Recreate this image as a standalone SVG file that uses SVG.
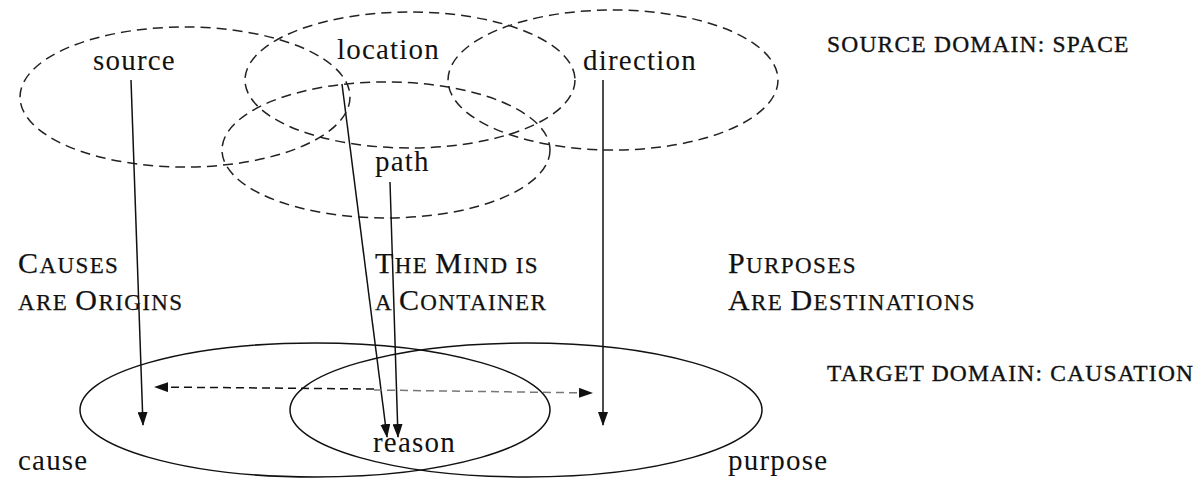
<svg xmlns="http://www.w3.org/2000/svg" width="1202" height="480" viewBox="0 0 1202 480">
<style>
.t{font-family:"Liberation Serif",serif;font-size:29px;fill:#111;letter-spacing:1.2px}
.sc{font-family:"Liberation Serif",serif;font-size:23.5px;fill:#111;letter-spacing:1.2px;stroke:#111;stroke-width:0.35}
.m{font-family:"Liberation Serif",serif;fill:#111;letter-spacing:1.4px;stroke:#111;stroke-width:0.25}
.big{font-size:30px}
.small{font-size:23px}
.dash{fill:none;stroke:#222;stroke-width:1.5;stroke-dasharray:10 6}
.solid{fill:none;stroke:#111;stroke-width:1.5}
.arr{stroke:#111;stroke-width:1.5;fill:none;marker-end:url(#ah)}
.darr{stroke:#111;stroke-width:1.5;fill:none;stroke-dasharray:8 5;marker-end:url(#ah)}
</style>
<defs>
<marker id="ah" markerWidth="14" markerHeight="10" refX="13" refY="5" orient="auto" markerUnits="userSpaceOnUse">
<path d="M0,0 L14,5 L0,10 Z" fill="#111"/>
</marker>
</defs>
<rect width="1202" height="480" fill="#fff"/>
<g id="source-domain">
<ellipse class="dash" cx="185" cy="97" rx="165" ry="70"/>
<ellipse class="dash" cx="410" cy="80" rx="165" ry="68"/>
<ellipse class="dash" cx="613" cy="80" rx="165" ry="70"/>
<ellipse class="dash" cx="386" cy="150" rx="164" ry="68"/>
</g>
<g id="target-domain">
<ellipse class="solid" cx="315" cy="410" rx="235" ry="67"/>
<ellipse class="solid" cx="526" cy="410" rx="236" ry="67"/>
</g>
<g id="node-source"><text class="t" x="93" y="70">source</text></g>
<g id="node-location"><text class="t" x="337" y="59">location</text></g>
<g id="node-direction"><text class="t" x="583" y="70">direction</text></g>
<g id="node-path"><text class="t" x="375" y="171">path</text></g>
<g id="label-source-domain"><text class="sc" x="827" y="52">SOURCE DOMAIN: SPACE</text></g>
<g id="label-target-domain"><text class="sc" x="827" y="381">TARGET DOMAIN: CAUSATION</text></g>
<g id="metaphor-1"><text class="m" x="18" y="273"><tspan class="big">C</tspan><tspan class="small">AUSES</tspan></text><text class="m" x="18" y="310"><tspan class="small">ARE </tspan><tspan class="big">O</tspan><tspan class="small">RIGINS</tspan></text></g>
<g id="metaphor-2"><text class="m" x="375" y="273"><tspan class="big">T</tspan><tspan class="small">HE </tspan><tspan class="big">M</tspan><tspan class="small">IND IS</tspan></text><text class="m" x="375" y="310"><tspan class="small">A </tspan><tspan class="big">C</tspan><tspan class="small">ONTAINER</tspan></text></g>
<g id="metaphor-3"><text class="m" x="728" y="273"><tspan class="big">P</tspan><tspan class="small">URPOSES</tspan></text><text class="m" x="728" y="310"><tspan class="big">A</tspan><tspan class="small">RE </tspan><tspan class="big">D</tspan><tspan class="small">ESTINATIONS</tspan></text></g>
<g id="node-cause"><text class="t" x="18" y="470">cause</text></g>
<g id="node-reason"><text class="t" x="373" y="452">reason</text></g>
<g id="node-purpose"><text class="t" x="728" y="470">purpose</text></g>
<g id="connectors">
<line class="arr" x1="131" y1="80" x2="143" y2="425"/>
<line class="arr" x1="342" y1="84" x2="387" y2="437"/>
<line class="arr" x1="390" y1="182" x2="398" y2="437"/>
<line class="arr" x1="603" y1="80" x2="603" y2="425"/>
<line class="darr" x1="374" y1="389" x2="155" y2="387"/>
<line class="darr" x1="374" y1="390" x2="592" y2="393" style="stroke:#777"/>
</g>
</svg>
